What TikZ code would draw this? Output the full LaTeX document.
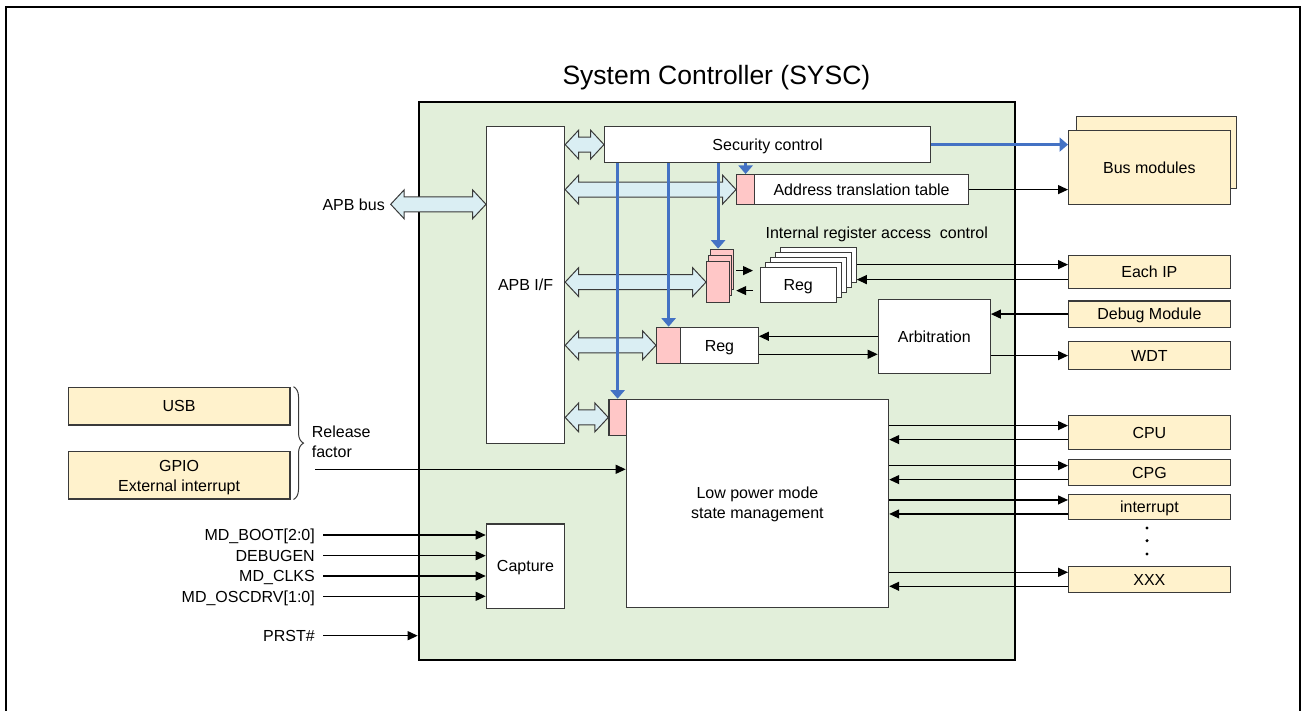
\documentclass[tikz,border=0pt]{standalone}
\usepackage{fontspec}
\setmainfont{Liberation Sans}
\usetikzlibrary{arrows.meta,calc,decorations.pathreplacing}
\definecolor{sysgreen}{HTML}{E2EFDA}
\definecolor{modyellow}{HTML}{FFF2CC}
\definecolor{regpink}{HTML}{FFC7C7}
\definecolor{busblue}{HTML}{DAEEF3}
\definecolor{secblue}{HTML}{4472C4}
\definecolor{edgegray}{HTML}{3A3A3A}
\tikzset{
  txt/.style={font=\fontsize{16}{20}\selectfont, inner sep=0pt, text height=11.5pt, text depth=0pt},
  mtxt/.style={font=\fontsize{16}{20}\selectfont, inner sep=0pt, align=center},
  box/.style={draw=edgegray, line width=1.2pt, fill=white, anchor=north west, inner sep=0pt},
  ybox/.style={box, fill=modyellow},
  pbox/.style={box, fill=regpink},
  arr/.style={draw=black, line width=1.2pt, -{Triangle[length=10pt,width=9pt]}},
  bluearr/.style={draw=secblue, line width=3pt, -{Triangle[length=8.5pt,width=14pt]}},
  dbl/.style={draw=edgegray, fill=busblue, line width=1pt, line join=miter},
}
\newcommand\dblbus[2]{%
  \draw[dbl] let \p1=(#1), \p2=(#2) in
   (\x1,\y1) -- ({\x1+13.5pt},{\y1+14.5pt}) -- ({\x1+13.5pt},{\y1+7.5pt}) -- ({\x2-13.5pt},{\y1+7.5pt})
   -- ({\x2-13.5pt},{\y1+14.5pt}) -- (\x2,\y1) -- ({\x2-13.5pt},{\y1-14.5pt}) -- ({\x2-13.5pt},{\y1-7.5pt})
   -- ({\x1+13.5pt},{\y1-7.5pt}) -- ({\x1+13.5pt},{\y1-14.5pt}) -- cycle;}
\begin{document}
\begin{tikzpicture}[x=1pt,y=-1pt]
\useasboundingbox (0,0) rectangle (1301,711);
% outer frame
\draw[line width=2pt] (6,716) -- (6,7) -- (1299.5,7) -- (1299.5,716);
% title
\node[font=\fontsize{26.5}{30}\selectfont, inner sep=0pt, anchor=base] (title) at (716.4,84.3) {System Controller (SYSC)};
% system box
\node[draw=black, line width=2pt, fill=sysgreen, anchor=north west, minimum width=596.3pt, minimum height=557.5pt, inner sep=0pt] (sysc) at (417.7,101) {};

% internal boxes
\node[box, minimum width=78pt, minimum height=317pt] (apbif) at (486,126) {};
\node[txt] at (apbif.center) {APB I/F};
\node[box, minimum width=326pt, minimum height=36pt, txt] (sec) at (604,126) {Security control};
\node[pbox, minimum width=18pt, minimum height=30pt] (addrr) at (736,174) {};
\node[box, minimum width=214pt, minimum height=30pt, txt] (addr) at (754,174) {Address translation table};
\node[txt] (iractl) at (876.8,232.7) {Internal register access \ control};
\node[pbox, minimum width=23pt, minimum height=40pt] (pk3) at (710,248.7) {};
\node[pbox, minimum width=23pt, minimum height=40pt] (pk2) at (708,254.7) {};
\node[pbox, minimum width=23pt, minimum height=41pt] (pk1) at (706,261) {};
\node[box, minimum width=76pt, minimum height=35pt] (rg5) at (779.6,246.7) {};
\node[box, minimum width=76pt, minimum height=35pt] (rg4) at (774.6,251.7) {};
\node[box, minimum width=76pt, minimum height=35pt] (rg3) at (769.6,256.7) {};
\node[box, minimum width=76pt, minimum height=35pt] (rg2) at (764.6,261.7) {};
\node[box, minimum width=76pt, minimum height=35pt, txt] (rg1) at (759.6,266.7) {Reg};
\node[box, minimum width=112pt, minimum height=74pt, txt] (arb) at (877.7,298.7) {Arbitration};
\node[pbox, minimum width=24pt, minimum height=36pt] (regr) at (656,326.7) {};
\node[box, minimum width=77.7pt, minimum height=36pt, txt] (reg) at (680,326.7) {Reg};
\node[pbox, minimum width=17.4pt, minimum height=36.3pt] (lpmr) at (608.3,398.7) {};
\node[box, minimum width=262.3pt, minimum height=208.3pt] (lpm) at (625.7,398.7) {};
\node[mtxt] at ([yshift=-1pt]lpm.center) {Low power mode\\state management};
\node[box, minimum width=78.3pt, minimum height=84.4pt, txt] (cap) at (485.7,523.3) {Capture};

% external modules
\node[ybox, minimum width=160pt, minimum height=72.6pt] (busb) at (1075.7,115.7) {};
\node[ybox, minimum width=161.6pt, minimum height=74pt, txt] (busf) at (1068,130) {Bus modules};
\node[ybox, minimum width=161.6pt, minimum height=33pt, txt] (eachip) at (1068,255) {Each IP};
\node[ybox, minimum width=161.6pt, minimum height=26pt, txt] (dbg) at (1068,300.5) {Debug Module};
\node[ybox, minimum width=161.6pt, minimum height=28pt, txt] (wdt) at (1068,341) {WDT};
\node[ybox, minimum width=161.6pt, minimum height=34pt, txt] (cpu) at (1068,415) {CPU};
\node[ybox, minimum width=161.6pt, minimum height=26pt, txt] (cpg) at (1068,459) {CPG};
\node[ybox, minimum width=161.6pt, minimum height=25.3pt, txt] (intr) at (1068,493.7) {interrupt};
\node[ybox, minimum width=161.6pt, minimum height=26pt, txt] (xxx) at (1068,565.7) {XXX};
\foreach \yy in {528,540.7,554} \fill (1147,\yy) circle[radius=1.7pt];
\node[ybox, minimum width=221.6pt, minimum height=37.6pt, txt] (usb) at (67.7,386.7) {USB};
\node[ybox, minimum width=221.6pt, minimum height=47.6pt] (gpio) at (67.7,450.7) {};
\node[mtxt] at ([yshift=-2.5pt]gpio.center) {GPIO\\External interrupt};

% brace and release factor
\draw[edgegray, line width=1pt, decorate, decoration={brace, amplitude=10pt}]
  ($(usb.north east)+(3,0)$) -- ($(gpio.south east)+(3,0)$);
\node[font=\fontsize{16}{19.5}\selectfont, inner sep=0pt, align=left, anchor=west] (relf) at (311.7,442) {Release\\factor};

% double bus arrows
\node[txt, anchor=east] (apblab) at (385,204.3) {APB bus};
\coordinate (apbL) at ([xshift=5.7pt]apblab.east);
\dblbus{apbL}{apbif.west |- apbL}
\dblbus{apbif.east |- sec.west}{sec.west}
\dblbus{apbif.east |- addrr.west}{addrr.west}
\dblbus{apbif.east |- pk1.west}{pk1.west}
\dblbus{apbif.east |- regr.west}{regr.west}
\dblbus{apbif.east |- lpmr.west}{lpmr.west}

% blue security lines
\draw[bluearr] (sec.east) -- (busf.west |- sec.east);
\draw[bluearr] (sec.south -| addrr.north) -- (addrr.north);
\draw[bluearr] (sec.south -| lpmr.north) -- (lpmr.north);
\draw[bluearr] (sec.south -| regr.north) -- (regr.north);
\draw[bluearr] (sec.south -| pk1.north) -- (pk1.north |- pk3.north);

% black signal arrows
\draw[arr] (addr.east) -- (busf.west |- addr.east);
\draw[arr] ($(pk1.east)+(6,-11.5)$) -- ($(rg1.west |- pk1.east)+(-6.6,-11.5)$);
\draw[arr] ($(rg1.west |- pk1.east)+(-6.6,8.5)$) -- ($(pk1.east)+(6,8.5)$);
\coordinate (ipo) at ([yshift=7.5pt]eachip.west);
\coordinate (ipi) at ([yshift=-7.5pt]eachip.west);
\draw[arr] (rg5.east |- ipo) -- (ipo);
\draw[arr] (ipi) -- (rg5.east |- ipi);
\coordinate (ra) at ([yshift=9pt]reg.east);
\coordinate (rb) at ([yshift=-9pt]reg.east);
\draw[arr] (arb.west |- ra) -- (ra);
\draw[arr] (rb) -- (arb.west |- rb);
\draw[arr] (dbg.west) -- (arb.east |- dbg.west);
\draw[arr] (arb.east |- wdt.west) -- (wdt.west);
\foreach \m in {cpu,cpg,intr,xxx}{
  \coordinate (\m o) at ([yshift=7pt]\m.west);
  \coordinate (\m i) at ([yshift=-7pt]\m.west);
  \draw[arr] (lpm.east |- \m o) -- (\m o);
  \draw[arr] (\m i) -- (lpm.east |- \m i);
}
\coordinate (rfs) at (315,469.3);
\draw[arr] (rfs) -- (lpm.west |- rfs);

% mode inputs
\node[txt, anchor=east] (mdboot) at (315,535) {MD\_BOOT[2:0]};
\node[txt, anchor=east] (dbgen) at (315,555.7) {DEBUGEN};
\node[txt, anchor=east] (mdclks) at (315,576) {MD\_CLKS};
\node[txt, anchor=east] (mdosc) at (315,596.3) {MD\_OSCDRV[1:0]};
\node[txt, anchor=east] (prst) at (315,635.7) {PRST\#};
\foreach \s in {mdboot,dbgen,mdclks,mdosc}
  \draw[arr] ([xshift=8.3pt]\s.east) -- (cap.west |- \s.east);
\draw[arr] ([xshift=8.3pt]prst.east) -- (sysc.west |- prst.east);
\end{tikzpicture}
\end{document}
